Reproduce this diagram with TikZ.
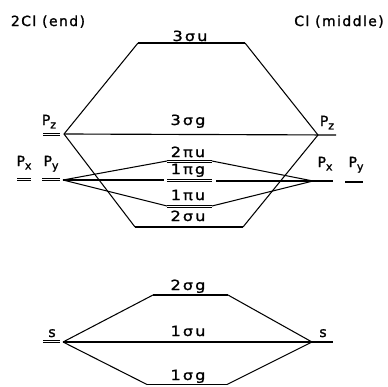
\documentclass[tikz,border=0pt]{standalone}
\usepackage{fontspec}
\setmainfont[LetterSpace=10,FakeBold=1.3]{DejaVu Sans}
\newfontfamily\orbfont[FakeStretch=1.15,LetterSpace=15,FakeBold=1.3]{DejaVu Sans}
\newcommand\lsub[1]{\raisebox{-0.45ex}{\fontsize{11}{11}\selectfont #1}}
\begin{document}
\begin{tikzpicture}[x=1pt,y=-1pt,
  lvl/.style={line width=1.15pt},
  conn/.style={line width=1.05pt},
  dl/.style={line width=0.8pt},
  title/.style={font=\fontsize{14}{14}\selectfont, inner sep=0pt, anchor=base},
  orb/.style={font=\orbfont\fontsize{14}{14}\selectfont, inner sep=0pt, anchor=base},
  ao/.style={font=\fontsize{14}{14}\selectfont, inner sep=0pt, anchor=base}]
\useasboundingbox (0,0) rectangle (388,386);

% titles
\node[title] (tEnd) at (48,26) {2Cl (end)};
\node[title] (tMid) at (339,26) {Cl (middle)};

% atomic orbital vertices and level ends
\coordinate (LPz) at (64,134);
\coordinate (LPzA) at (43,134);
\coordinate (LPzB) at (60,134);
\coordinate (RPz) at (318,135);
\coordinate (RPzE) at (336,135);

\coordinate (Lp) at (63,180);
\coordinate (LPxA) at (17,179.5);
\coordinate (LPxB) at (31,179.5);
\coordinate (LPyA) at (42,179.5);
\coordinate (LPyB) at (60,179.5);
\coordinate (Rp) at (313,181);
\coordinate (RpE) at (333,181);
\coordinate (RPyA) at (345,182);
\coordinate (RPyB) at (363,182);

\coordinate (Ls) at (63,342);
\coordinate (LsA) at (43,341.5);
\coordinate (LsB) at (60,341.5);
\coordinate (Rs) at (312,342);
\coordinate (RsE) at (333,342);

% molecular orbital level ends
\coordinate (su3A) at (138,43);  \coordinate (su3B) at (245,43);
\coordinate (pu2A) at (167,161); \coordinate (pu2B) at (212,161);
\coordinate (pg1A) at (167,180.5); \coordinate (pg1B) at (212,180.5);
\coordinate (midA) at (164,180); \coordinate (midB) at (216,181);
\coordinate (pu1A) at (167,206); \coordinate (pu1B) at (212,206);
\coordinate (su2A) at (135,227); \coordinate (su2B) at (243,227);
\coordinate (sg2A) at (153,295); \coordinate (sg2B) at (228,295);
\coordinate (sg1A) at (147,384.5); \coordinate (sg1B) at (227,384.5);

% doubly degenerate levels: two close parallel lines
\foreach \a/\b in {LPzA/LPzB, LPxA/LPxB, LPyA/LPyB, LsA/LsB, pu2A/pu2B, pg1A/pg1B, pu1A/pu1B}{
  \draw[dl] ([yshift=1.1pt]\a) -- ([yshift=1.1pt]\b);
  \draw[dl] ([yshift=-1.1pt]\a) -- ([yshift=-1.1pt]\b);
}

% single levels
\draw[lvl] (RPyA) -- (RPyB);
\draw[lvl] (su3A) -- (su3B);
\draw[lvl] (LPz) -- (RPzE);
\draw[lvl] (Lp) -- (midA);
\draw[lvl] (midB) -- (RpE);
\draw[lvl] (su2A) -- (su2B);
\draw[lvl] (sg2A) -- (sg2B);
\draw[lvl] (Ls) -- (RsE);
\draw[lvl] (sg1A) -- (sg1B);

% connectors
\draw[conn] (LPz) -- (su3A);
\draw[conn] (su3B) -- (RPz);
\draw[conn] (LPz) -- (su2A);
\draw[conn] (su2B) -- (RPz);
\draw[conn] (Lp) -- (pu2A);
\draw[conn] (pu2B) -- (Rp);
\draw[conn] (Lp) -- (pu1A);
\draw[conn] (pu1B) -- (Rp);
\draw[conn] (Ls) -- (sg2A);
\draw[conn] (sg2B) -- (Rs);
\draw[conn] (Ls) -- (sg1A);
\draw[conn] (sg1B) -- (Rs);

% AO labels
\node[ao] (lPzL) at (49,125) {P\lsub{z}};
\node[ao] (lPzR) at (327,126) {P\lsub{z}};
\node[ao] (lPxL) at (24,166) {P\lsub{x}};
\node[ao] (lPyL) at (51,166) {P\lsub{y}};
\node[ao] (lPxR) at (325,167) {P\lsub{x}};
\node[ao] (lPyR) at (356,167) {P\lsub{y}};
\node[ao] (lsL) at (52,337) {s};
\node[ao] (lsR) at (323,337) {s};

% MO labels
\node[orb] (l3su) at (190,41) {3σu};
\node[orb] (l3sg) at (188,125) {3σg};
\node[orb] (l2pu) at (188,157) {2πu};
\node[orb] (l1pg) at (188,174) {1πg};
\node[orb] (l1pu) at (188,200) {1πu};
\node[orb] (l2su) at (188,221) {2σu};
\node[orb] (l2sg) at (188,290) {2σg};
\node[orb] (l1su) at (188,336) {1σu};
\node[orb] (l1sg) at (188,380) {1σg};
\end{tikzpicture}
\end{document}
